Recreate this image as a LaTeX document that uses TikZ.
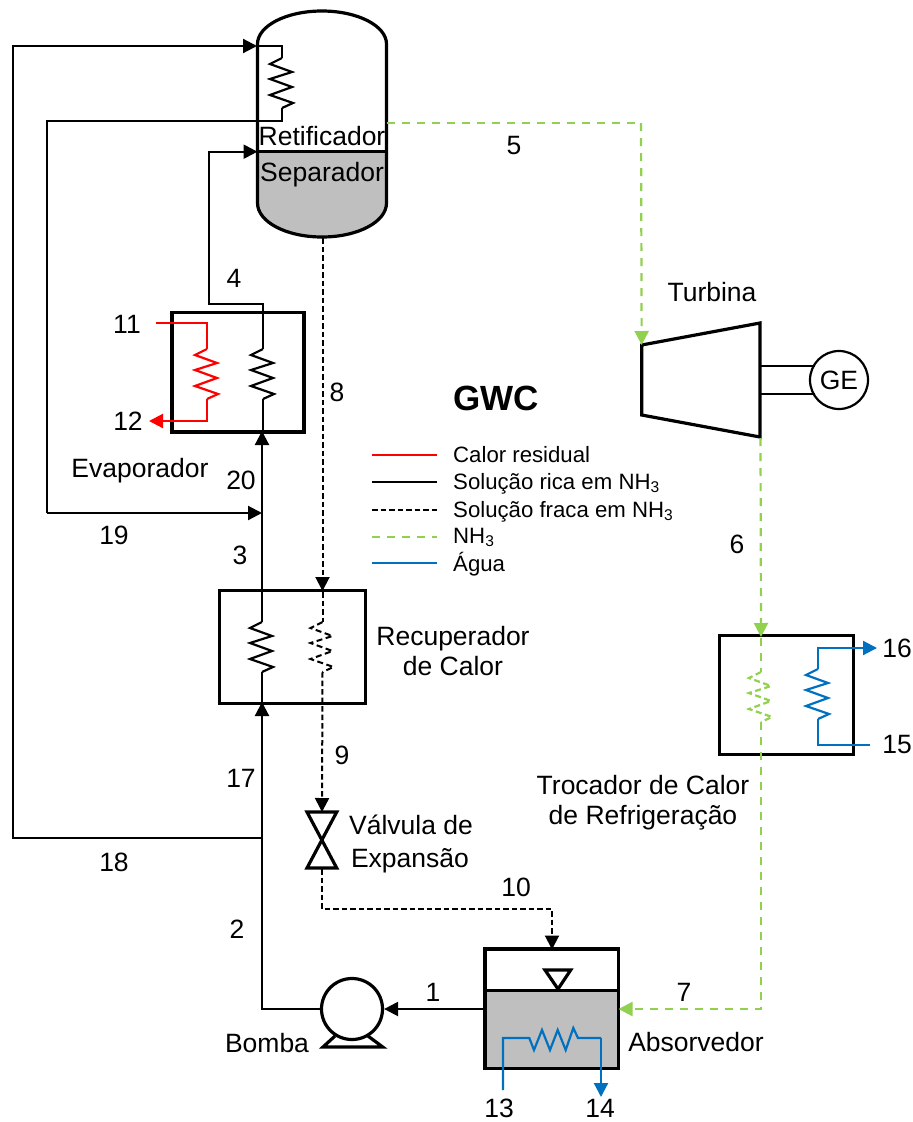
\documentclass[tikz,border=0pt]{standalone}
\usepackage{fontspec}
\setmainfont{Liberation Sans}
\usetikzlibrary{arrows.meta,calc}
\definecolor{cgreen}{HTML}{92D050}
\definecolor{cblue}{HTML}{0070C0}
\definecolor{cgrey}{HTML}{BFBFBF}
\definecolor{cred}{HTML}{FF0000}
\newcommand\coil[4]{%
  \coordinate (#1-t) at (#2,#3);
  \coordinate (#1-b) at (#2,#3+50);
  \draw[#4] (#1-t) -- ++(-12,6) -- ++(22,8) -- ++(-22,7) -- ++(22,8) -- ++(-22,8) -- ++(23,8) -- (#1-b);}
\tikzset{
  x=1pt,y=-1pt,
  lbl/.style={anchor=base,inner sep=0pt,font=\fontsize{26.5}{31}\selectfont,text=black},
  leg/.style={anchor=base west,inner sep=0pt,font=\fontsize{22.2}{26}\selectfont,text=black},
  box/.style={draw=black,line width=3.2pt,inner sep=0pt,fill=none},
  rich/.style={draw=black,line width=2.2pt},
  weak/.style={draw=black,line width=2pt,dash pattern=on 5.5pt off 3pt},
  weakcoil/.style={draw=black,line width=2pt,dash pattern=on 6pt off 3.5pt},
  ammonia/.style={draw=cgreen,line width=2.2pt,dash pattern=on 8pt off 7pt},
  ammoniacoil/.style={draw=cgreen,line width=2.2pt,dash pattern=on 6pt off 3.5pt},
  heat/.style={draw=cred,line width=2.2pt},
  water/.style={draw=cblue,line width=2.2pt},
  tip/.style={-{Triangle[length=14pt,width=14pt]}},
  heavy/.style={draw=black,line width=3.2pt,line join=miter},
}
\begin{document}
\begin{tikzpicture}[line join=miter]
\useasboundingbox (0,0) rectangle (913,1122);
% vessel
\coordinate (sepL) at (257.5,151.7);
\coordinate (sepR) at (386.5,151.7);
\fill[cgrey] (sepL) -- (sepR) -- (386.5,203) .. controls (386.5,222) and (357.6,237) .. (322,237) .. controls (286.4,237) and (257.5,222) .. (257.5,203) -- cycle;
\draw[heavy] (257.5,203) -- (257.5,44) .. controls (257.5,25.8) and (286.4,11) .. (322,11) .. controls (357.6,11) and (386.5,25.8) .. (386.5,44) -- (386.5,203) .. controls (386.5,222) and (357.6,237) .. (322,237) .. controls (286.4,237) and (257.5,222) .. (257.5,203) -- cycle;
\draw[heavy] (sepL) -- (sepR);
\node[lbl] (retif) at (322,145) {Retificador};
\node[lbl] (separ) at (322,181) {Separador};
% boxes
\node[box,minimum width=132pt,minimum height=119.5pt] (evap) at (238,372.3) {};
\node[box,minimum width=146pt,minimum height=113pt] (recup) at (292.5,646.7) {};
\node[box,minimum width=134pt,minimum height=119pt] (cond) at (786.5,695) {};
% absorber
\fill[cgrey] (486.7,990.7) rectangle (617,1067);
\node[box,minimum width=133.5pt,minimum height=119.5pt] (absb) at (551.8,1008.8) {};
\draw[heavy] (absb.west |- 0,990.7) -- (absb.east |- 0,990.7);
\draw[heavy] (545,970) -- (570.7,970) -- (558,989) -- cycle;
% turbine
\node[circle,draw=black,line width=2.2pt,minimum size=58pt,inner sep=0pt,font=\fontsize{26.5}{31}\selectfont,text=black] (gen) at (839,380) {GE};
\draw[heavy] (641.7,345) -- (760,323) -- (760,437) -- (641.7,415) -- cycle;
\coordinate (turbIn) at (641.7,345);
\coordinate (turbOut) at (760.5,438);
\draw[rich] (761,365.7) -- (815,365.7);
\draw[rich] (761,394.3) -- (815,394.3);
% pump
\node[circle,draw=black,line width=3.2pt,minimum size=61pt,inner sep=0pt] (pump) at (352,1009) {};
\draw[heavy] (335,1036) -- (323,1047) -- (382.7,1047) -- (368,1036);
% valve
\coordinate (valveT) at (322,812);
\coordinate (valveB) at (322,869);
\draw[heavy] (307,812) -- (336.7,812) -- (307,868) -- (336.7,868) -- cycle;
% coils
\coil{cr}{282}{58}{rich}
\coil{ce}{263}{349}{rich}
\coil{ch}{207}{349}{heat}
\coil{cs}{262}{622}{rich}
\coil{cw}{322.5}{622}{weakcoil}
\coil{cn}{761}{672}{ammoniacoil}
\coil{cb}{818}{669}{water}
% rich lines
\coordinate (j18) at (262,838);
\coordinate (j19) at (262,513);
\coordinate (a18a) at (13,838);
\coordinate (a18b) at (13,46);
\coordinate (a19a) at (47,121);
\coordinate (a19b) at (47,513);
\coordinate (a4a) at (263,304);
\coordinate (a4b) at (209,304);
\coordinate (a2) at (262,1009);
\draw[rich,tip] (j18) -- (a18a) -- (a18b) -- (257,46);
\draw[rich] (257,46) -- (282,46) -- (cr-t);
\draw[rich] (cr-b) -- (282,121) -- (a19a) -- (a19b);
\draw[rich,tip] (a19b) -- (j19);
\draw[rich,tip] (ce-t) -- (a4a) -- (a4b) -- (209,151.7) -- (sepL);
\draw[rich] (ce-b) -- (263,431);
\draw[rich,tip] (cs-t) -- (262,431);
\draw[rich] (cs-b) -- (262,702);
\draw[rich,tip] (pump.west) -- (a2) -- (262,702);
\draw[rich,tip] (absb.west |- pump) -- (pump.east);
% heat
\coordinate (h11) at (156,323);
\coordinate (h12) at (149,421);
\draw[heat] (h11) -- (207,323) -- (ch-t);
\draw[heat,tip] (ch-b) -- (207,421) -- (h12);
% weak
\draw[weak,tip] (322.5,238) -- (322.5,591);
\draw[weak] (322.5,592) -- (cw-t);
\draw[weak,tip] (cw-b) -- (valveT);
\draw[weak,tip] (valveB) -- (322,909) -- (552,909) -- (552,949.5);
% ammonia
\draw[ammonia] (sepR |- 0,123) -- (641,123);
\draw[ammonia,tip] (641,123) -- (turbIn);
\draw[ammonia,tip] (turbOut) -- (761,637);
\draw[ammonia] (761,638) -- (cn-t);
\draw[ammonia,tip] (cn-b) -- (761,1009) -- (618.5,1009);
% water
\coordinate (w15) at (870,745);
\coordinate (w16) at (877,648);
\draw[water] (w15) -- (818,745) -- (cb-b);
\draw[water,tip] (cb-t) -- (818,648) -- (w16);
\coordinate (w13) at (503,1090);
\coordinate (w14) at (601,1097);
\draw[water] (w13) -- (503,1038) -- (529.3,1038) -- (534,1050) -- (542,1030) -- (550,1050) -- (557.7,1030) -- (565.7,1050) -- (573.3,1028) -- (578,1038) -- (601,1038);
\draw[water,tip] (601,1038) -- (w14);
% labels
\node[lbl] (n5) at (514,154) {5};
\node[lbl] (n4) at (234,287) {4};
\node[lbl] (n11) at (127,333) {11};
\node[lbl] (n12) at (128,430) {12};
\node[lbl] (n8) at (337,401) {8};
\node[anchor=base,inner sep=0pt,font=\fontsize{35}{40}\selectfont\bfseries,text=black] (gwc) at (496,410) {GWC};
\node[lbl] (tturb) at (712,301) {Turbina};
\node[lbl] (n20) at (241,489) {20};
\node[lbl] (tevap) at (140,477) {Evaporador};
\node[lbl] (n19) at (114,544) {19};
\node[lbl] (n6) at (737,553) {6};
\node[lbl] (n3) at (240,564) {3};
\node[lbl] (trec1) at (453,645) {Recuperador};
\node[lbl] (trec2) at (453,675) {de Calor};
\node[lbl] (n16) at (897,657) {16};
\node[lbl] (n15) at (897,753) {15};
\node[lbl] (n9) at (342,764) {9};
\node[lbl] (n17) at (241,787) {17};
\node[lbl] (ttro1) at (643,794) {Trocador de Calor};
\node[lbl] (ttro2) at (643,824) {de Refrigeração};
\node[lbl] (tval1) at (411,834) {Válvula de};
\node[lbl] (tval2) at (410,867) {Expansão};
\node[lbl] (n18) at (114,871) {18};
\node[lbl] (n10) at (516,896) {10};
\node[lbl] (n2) at (237,938) {2};
\node[lbl] (n7) at (684,1001) {7};
\node[lbl] (n1) at (433,1001) {1};
\node[lbl] (tbom) at (267,1052) {Bomba};
\node[lbl] (tabs) at (696,1051) {Absorvedor};
\node[lbl] (n13) at (499,1117) {13};
\node[lbl] (n14) at (600,1117) {14};
% legend
\coordinate (l1a) at (372,455);  \coordinate (l1b) at (437,455);
\coordinate (l2a) at (372,482);  \coordinate (l2b) at (437,482);
\coordinate (l3a) at (372,510);  \coordinate (l3b) at (437,510);
\coordinate (l4a) at (372,537);  \coordinate (l4b) at (437,537);
\coordinate (l5a) at (372,563);  \coordinate (l5b) at (437,563);
\draw[heat] (l1a) -- (l1b);
\draw[rich] (l2a) -- (l2b);
\draw[weak] (l3a) -- (l3b);
\draw[ammonia] (l4a) -- (l4b);
\draw[water] (l5a) -- (l5b);
\node[leg] (t1) at (453,462) {Calor residual};
\node[leg] (t2) at (453,489) {Solução rica em NH\textsubscript{3}};
\node[leg] (t3) at (453,517) {Solução fraca em NH\textsubscript{3}};
\node[leg] (t4) at (453,543) {NH\textsubscript{3}};
\node[leg] (t5) at (453,571) {Água};
\end{tikzpicture}
\end{document}
